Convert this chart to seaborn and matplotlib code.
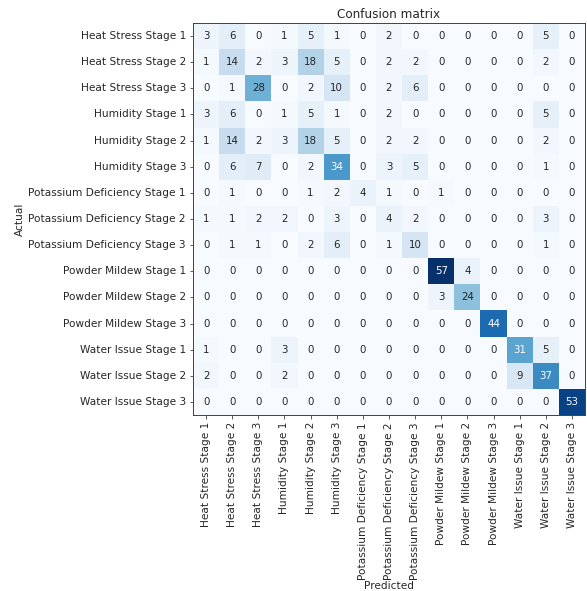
import numpy as np
import matplotlib
matplotlib.use("Agg")
import matplotlib.pyplot as plt
import seaborn as sns

classes = ["Heat Stress Stage 1", "Heat Stress Stage 2", "Heat Stress Stage 3",
           "Humidity Stage 1", "Humidity Stage 2", "Humidity Stage 3",
           "Potassium Deficiency Stage 1", "Potassium Deficiency Stage 2",
           "Potassium Deficiency Stage 3", "Powder Mildew Stage 1",
           "Powder Mildew Stage 2", "Powder Mildew Stage 3",
           "Water Issue Stage 1", "Water Issue Stage 2", "Water Issue Stage 3"]

row_hs1 = [3, 6, 0, 1, 5, 1, 0, 2, 0, 0, 0, 0, 0, 5, 0]
row_hs2 = [1, 14, 2, 3, 18, 5, 0, 2, 2, 0, 0, 0, 0, 2, 0]
row_hs3 = [0, 1, 28, 0, 2, 10, 0, 2, 6, 0, 0, 0, 0, 0, 0]
row_hu1 = [3, 6, 0, 1, 5, 1, 0, 2, 0, 0, 0, 0, 0, 5, 0]
row_hu2 = [1, 14, 2, 3, 18, 5, 0, 2, 2, 0, 0, 0, 0, 2, 0]
row_hu3 = [0, 6, 7, 0, 2, 34, 0, 3, 5, 0, 0, 0, 0, 1, 0]
row_pd1 = [0, 1, 0, 0, 1, 2, 4, 1, 0, 1, 0, 0, 0, 0, 0]
row_pd2 = [1, 1, 2, 2, 0, 3, 0, 4, 2, 0, 0, 0, 0, 3, 0]
row_pd3 = [0, 1, 1, 0, 2, 6, 0, 1, 10, 0, 0, 0, 0, 1, 0]
row_pm1 = [0, 0, 0, 0, 0, 0, 0, 0, 0, 57, 4, 0, 0, 0, 0]
row_pm2 = [0, 0, 0, 0, 0, 0, 0, 0, 0, 3, 24, 0, 0, 0, 0]
row_pm3 = [0, 0, 0, 0, 0, 0, 0, 0, 0, 0, 0, 44, 0, 0, 0]
row_wi1 = [1, 0, 0, 3, 0, 0, 0, 0, 0, 0, 0, 0, 31, 5, 0]
row_wi2 = [2, 0, 0, 2, 0, 0, 0, 0, 0, 0, 0, 0, 9, 37, 0]
row_wi3 = [0, 0, 0, 0, 0, 0, 0, 0, 0, 0, 0, 0, 0, 0, 53]

cm = np.array([row_hs1, row_hs2, row_hs3, row_hu1, row_hu2, row_hu3,
               row_pd1, row_pd2, row_pd3, row_pm1, row_pm2, row_pm3,
               row_wi1, row_wi2, row_wi3])

sns.set_style("white")
plt.rcParams['font.family'] = ['DejaVu Sans']

W, H = 587, 591
fig = plt.figure(figsize=(W / 72, H / 72), dpi=72)
ax = fig.add_axes([193 / W, 1 - 415 / H, 392 / W, 392 / H])

sns.heatmap(cm, cmap="Blues", annot=False, cbar=False, ax=ax,
            xticklabels=classes, yticklabels=classes, square=False)

thresh = cm.max() / 2.0
for i in range(cm.shape[0]):
    for j in range(cm.shape[1]):
        ax.text(j + 0.5, i + 0.5, str(cm[i, j]), ha="center", va="center",
                fontsize=10.2, color="white" if cm[i, j] > thresh else "#262626")

for s in ax.spines.values():
    s.set_visible(True)
    s.set_color("#333333")
    s.set_linewidth(0.9)

ax.tick_params(axis="both", which="both", length=3.5, width=0.8, labelsize=10.5,
               bottom=True, left=True, color="#333333", labelcolor="#262626")
plt.setp(ax.get_xticklabels(), rotation=90)
plt.setp(ax.get_yticklabels(), rotation=0)
ax.set_title("Confusion matrix", fontsize=12, pad=5, color="#262626")
ax.set_xlabel("Predicted", fontsize=10.5, labelpad=1, color="#262626")
ax.set_ylabel("Actual", fontsize=10.5, labelpad=3, color="#262626")

fig.savefig("out.png", dpi=72)
